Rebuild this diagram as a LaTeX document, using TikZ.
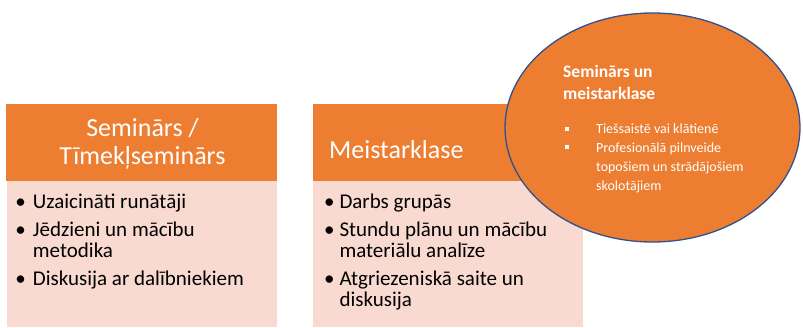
\documentclass[tikz,border=0pt]{standalone}
\usepackage{fontspec}
\setmainfont{Carlito}
\definecolor{orng}{HTML}{ED7D31}
\definecolor{bodypink}{HTML}{F8DAD0}
\definecolor{ringblue}{HTML}{2F528F}
\begin{document}
\begin{tikzpicture}[x=1pt,y=-1pt,
  hdrbox/.style={fill=orng},
  bodybox/.style={fill=bodypink},
  hdrtext/.style={inner sep=0pt, text=white, font=\fontsize{26}{28}\selectfont},
  bodytext/.style={inner sep=0pt, anchor=base west, text=black, font=\fontsize{21}{21}\selectfont},
  bul/.style={inner sep=0pt, anchor=base, text=black, font=\fontsize{21}{21}\selectfont},
  elltitle/.style={inner sep=0pt, anchor=base west, text=white, font=\fontsize{17.5}{22}\selectfont\bfseries},
  elltext/.style={inner sep=0pt, anchor=base west, text=white, font=\fontsize{14}{19}\selectfont},
  sqbul/.style={fill=white}
]
\useasboundingbox (0,0) rectangle (803,327);
% box 1
\path[hdrbox] (6,104) rectangle (277,181);
\path[bodybox] (7,181) rectangle (277,327);
\node[hdrtext, anchor=base] (h1a) at (142.5,136.5) {Seminārs /};
\node[hdrtext, anchor=base] (h1b) at (142.5,164.5) {Tīmekļseminārs};
\node[bul] (b1a) at (20.7,208.3) {•};
\node[bodytext] (t1a) at (32.7,208.3) {Uzaicināti runātāji};
\node[bul] (b1b) at (20.7,236.7) {•};
\node[bodytext] (t1b) at (32.7,236.7) {Jēdzieni un mācību};
\node[bodytext] (t1c) at (32.7,257.7) {metodika};
\node[bul] (b1c) at (20.7,285) {•};
\node[bodytext] (t1d) at (32.7,285) {Diskusija ar dalībniekiem};
% box 2
\path[hdrbox] (313,104) rectangle (583,181);
\path[bodybox] (313,181) rectangle (583,327);
\node[hdrtext, anchor=base west] (h2) at (329,158.3) {Meistarklase};
\node[bul] (b2a) at (329.3,208.3) {•};
\node[bodytext] (t2a) at (339.3,208.3) {Darbs grupās};
\node[bul] (b2b) at (329.3,236.7) {•};
\node[bodytext] (t2b) at (339.3,236.7) {Stundu plānu un mācību};
\node[bodytext] (t2c) at (339.3,257.7) {materiālu analīze};
\node[bul] (b2c) at (329.3,285) {•};
\node[bodytext] (t2d) at (339.3,285) {Atgriezeniskā saite un};
\node[bodytext] (t2e) at (339.3,306.7) {diskusija};
% ellipse
\draw[ringblue, fill=orng, line width=1.3pt] (652.5,127.5) ellipse [x radius=147.5, y radius=114.5];
\node[elltitle] (e1) at (563,77) {Seminārs un};
\node[elltitle] (e2) at (563,99) {meistarklase};
\path[sqbul] (565,126.7) rectangle (569,130.7);
\node[elltext] (e3) at (596,133.3) {Tiešsaistē vai klātienē};
\path[sqbul] (565,145.3) rectangle (569,149.3);
\node[elltext] (e4) at (596,152.7) {Profesionālā pilnveide};
\node[elltext] (e5) at (596,171.7) {topošiem un strādājošiem};
\node[elltext] (e6) at (596,190) {skolotājiem};
\end{tikzpicture}
\end{document}
